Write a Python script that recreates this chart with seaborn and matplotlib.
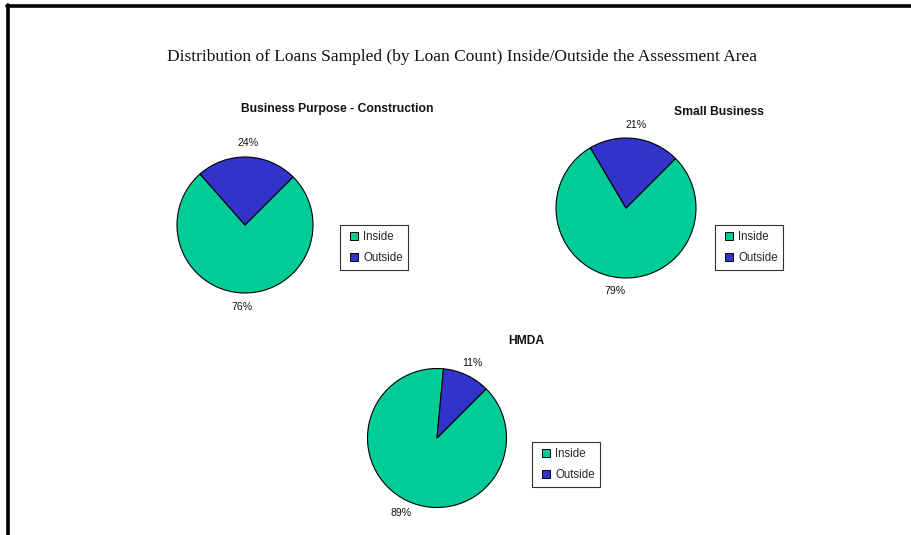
import matplotlib
matplotlib.use("Agg")
import matplotlib.pyplot as plt
from matplotlib.lines import Line2D
import seaborn as sns

sns.set_theme(style="white")
plt.rcParams['font.family'] = ['Liberation Sans', 'DejaVu Sans']

# ---- data ----
categories = ["Inside", "Outside"]
chart_titles = ["Business Purpose - Construction", "Small Business", "HMDA"]
inside_pct = [76, 79, 89]
outside_pct = [24, 21, 11]
main_title = "Distribution of Loans Sampled (by Loan Count) Inside/Outside the Assessment Area"

colors = ["#00CC99", "#3333CC"]

W, H = 912, 535
fig = plt.figure(figsize=(W / 100, H / 100), dpi=100)

# layout in pixel coords (x, y from top)
pie_centers = [(245, 225), (626, 208), (437, 438)]
pie_radii = [68, 70, 69.5]
title_pos = [(337, 109), (719, 112), (526, 341)]
legend_pos = [(340, 225), (715, 225), (532, 442)]

def fx(x):
    return x / W

def fy(y):
    return 1 - y / H

lim = 1.4
for i in range(3):
    cx, cy = pie_centers[i]
    r = pie_radii[i]
    half = r * lim
    ax = fig.add_axes([fx(cx - half), fy(cy + half), 2 * half / W, 2 * half / H])
    vals = [inside_pct[i], outside_pct[i]]
    wedges, texts, autotexts = ax.pie(
        vals, colors=colors, startangle=45, counterclock=False,
        autopct=lambda p: f"{p:.0f}%", pctdistance=1.2,
        wedgeprops=dict(edgecolor="black", linewidth=0.8),
        textprops=dict(fontsize=7.6, color="#111111"))
    ax.set_xlim(-lim, lim)
    ax.set_ylim(-lim, lim)
    ax.set_aspect("equal")
    ax.axis("off")
    tx, ty = title_pos[i]
    fig.text(fx(tx), fy(ty), chart_titles[i], ha="center", va="center",
             fontsize=8.7, fontweight="bold", color="#111111")
    handles = [Line2D([], [], marker="s", linestyle="none", markersize=5.5,
                      markerfacecolor=c, markeredgecolor="black", markeredgewidth=0.7)
               for c in colors]
    lx, ly = legend_pos[i]
    leg = ax.legend(handles, categories, loc="upper left",
                    bbox_to_anchor=(fx(lx), fy(ly)), bbox_transform=fig.transFigure,
                    fontsize=8.3, frameon=True, fancybox=False,
                    handlelength=1.5, handletextpad=0.0,
                    labelspacing=0.8, borderpad=0.5, borderaxespad=0)
    leg.get_frame().set_edgecolor("black")
    leg.get_frame().set_linewidth(0.8)

fig.text(fx(462), fy(57), main_title, ha="center", va="center",
         fontsize=12.5, family=["Liberation Serif", "DejaVu Serif"], color="#111111")

# frame lines (top and left)
fig.add_artist(Line2D([fx(7), 1.0], [fy(6), fy(6)], color="black", linewidth=2.6,
                      transform=fig.transFigure))
fig.add_artist(Line2D([fx(8), fx(8)], [fy(5), 0.0], color="black", linewidth=2.6,
                      transform=fig.transFigure))

fig.savefig("out.png", dpi=100)
